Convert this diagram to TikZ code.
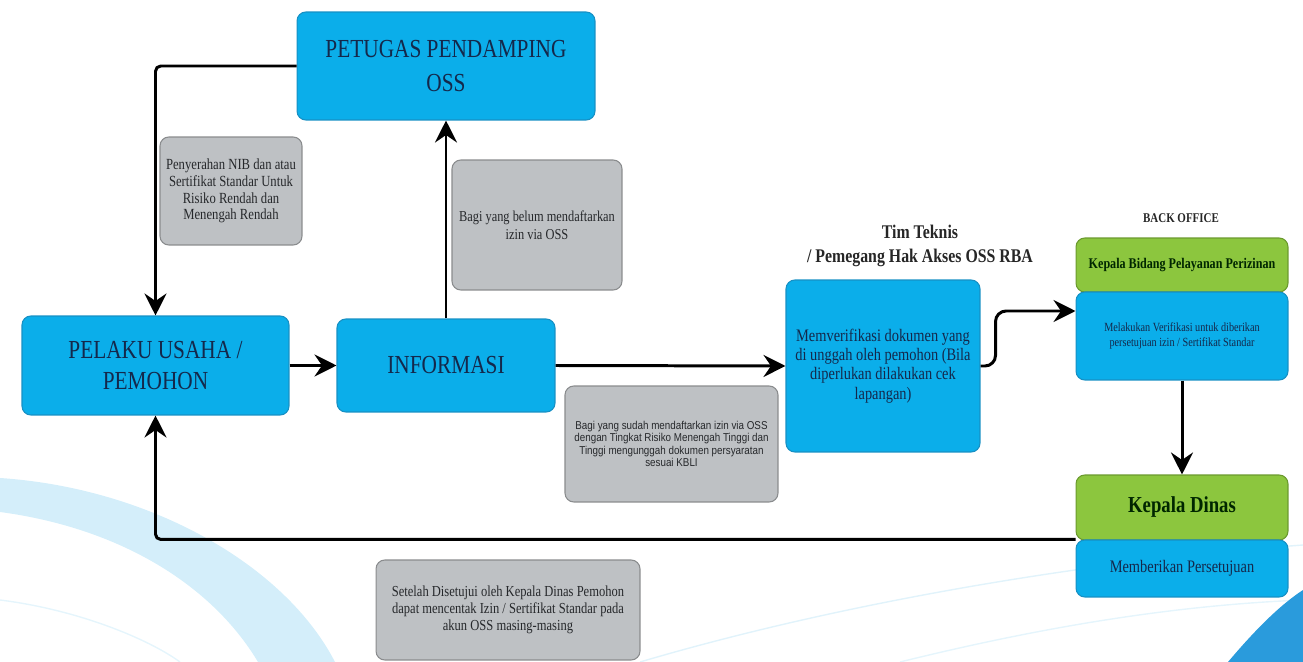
\documentclass[tikz,border=0pt]{standalone}
\usepackage{fontspec}
\setmainfont[FakeStretch=0.82]{Liberation Serif}
\setsansfont[FakeStretch=0.86]{Liberation Sans}
\usepackage{xcolor}
\usepackage{tikz}
\usetikzlibrary{arrows.meta, positioning, calc}

\definecolor{ossblue}{HTML}{0BAEEA}
\definecolor{ossedge}{HTML}{1790C4}
\definecolor{osstext}{HTML}{14284B}
\definecolor{notegray}{HTML}{BEC1C4}
\definecolor{noteedge}{HTML}{8A8C8E}
\definecolor{notetext}{HTML}{26282B}
\definecolor{kagreen}{HTML}{8CC63E}
\definecolor{kaedge}{HTML}{6B9A2E}
\definecolor{swoosh}{HTML}{D4EEFA}
\definecolor{swooshdark}{HTML}{2A9BDC}

\begin{document}
\begin{tikzpicture}[
    x=0.02cm, y=-0.02cm,
    proc/.style={rectangle, rounded corners=5pt, draw=ossedge, line width=0.6pt, fill=ossblue, text=osstext, align=center, inner sep=2pt},
    note/.style={rectangle, rounded corners=5pt, draw=noteedge, line width=0.6pt, fill=notegray, text=notetext, align=center, inner sep=2pt},
    head/.style={rectangle, rounded corners=5pt, draw=kaedge, line width=0.6pt, fill=kagreen, text=black!85!green, align=center, font=\bfseries},
    title/.style={align=center, font=\bfseries, text=black!85},
    flow/.style={-{Stealth[length=4.4mm, width=4.4mm, inset=1.5mm]}, line width=1.7pt, black}
]
\useasboundingbox (0,0) rectangle (1303,662);

\fill[swoosh] (0,478) .. controls (150,488) and (285,565) .. (335,662) -- (258,662) .. controls (212,585) and (120,528) .. (0,512) -- cycle;
\draw[swoosh!60, line width=0.8pt] (0,600) .. controls (80,610) and (150,640) .. (180,662);
\draw[swoosh!70, line width=0.8pt] (640,662) .. controls (850,600) and (1100,560) .. (1303,545);
\draw[swoosh!60, line width=0.8pt] (900,662) .. controls (1050,625) and (1180,605) .. (1303,600);
\fill[swooshdark] (1228,662) .. controls (1255,630) and (1280,605) .. (1303,590) -- (1303,662) -- cycle;

\node[proc, minimum width=5.96cm, minimum height=2.16cm, font=\fontsize{14.8}{19}\selectfont] (petugas) at (446,66) {PETUGAS PENDAMPING\\OSS};
\node[proc, minimum width=5.34cm, minimum height=1.98cm, font=\fontsize{14.8}{18}\selectfont] (pelaku) at (155.5,365.5) {PELAKU USAHA /\\PEMOHON};
\node[proc, minimum width=4.36cm, minimum height=1.86cm, font=\fontsize{14.8}{18}\selectfont] (informasi) at (446,365.5) {INFORMASI};
\node[proc, minimum width=3.88cm, minimum height=3.44cm, font=\fontsize{10}{11}\selectfont] (verif) at (883,366) {Memverifikasi dokumen yang\\di unggah oleh pemohon (Bila\\diperlukan dilakukan cek\\lapangan)};

\node[note, minimum width=2.84cm, minimum height=2.16cm, font=\fontsize{8.8}{9.6}\selectfont] (ket1) at (231,191) {Penyerahan NIB dan atau\\Sertifikat Standar Untuk\\Risiko Rendah dan\\Menengah Rendah};
\node[note, minimum width=3.4cm, minimum height=2.6cm, font=\fontsize{8.6}{10.4}\selectfont] (ket2) at (537,225) {Bagi yang belum mendaftarkan\\izin via OSS};
\node[note, minimum width=4.26cm, minimum height=2.32cm, font=\sffamily\fontsize{6.5}{7.1}\selectfont] (ket3) at (671.5,444) {Bagi yang sudah mendaftarkan izin via OSS\\dengan Tingkat Risiko Menengah Tinggi dan\\Tinggi mengunggah dokumen persyaratan\\sesuai KBLI};
\node[note, minimum width=5.28cm, minimum height=2.0cm, font=\fontsize{8.7}{9.6}\selectfont] (ket4) at (508,610) {Setelah Disetujui oleh Kepala Dinas Pemohon\\dapat mencentak Izin / Sertifikat Standar pada\\akun OSS masing-masing};

\node[title, font=\bfseries\fontsize{11}{13.7}\selectfont] (tim) at (920,246) {Tim Teknis\\/ Pemegang Hak Akses OSS RBA};
\node[title, font=\bfseries\fontsize{7.6}{9}\selectfont] (backoffice) at (1181,218) {BACK OFFICE};

\node[head, minimum width=4.24cm, minimum height=1.08cm, font=\bfseries\fontsize{8.4}{10}\selectfont] (kabid) at (1182,265) {Kepala Bidang Pelayanan Perizinan};
\node[proc, minimum width=4.24cm, minimum height=1.76cm, font=\fontsize{7.1}{8.6}\selectfont] (kabidtugas) at (1182,336) {Melakukan Verifikasi untuk diberikan\\persetujuan izin / Sertifikat Standar};
\node[head, minimum width=4.24cm, minimum height=1.3cm, font=\bfseries\fontsize{13}{15}\selectfont] (kadis) at (1182,507.5) {Kepala Dinas};
\node[proc, minimum width=4.24cm, minimum height=1.14cm, font=\fontsize{10}{11}\selectfont] (kadistugas) at (1182,568.5) {Memberikan Persetujuan};

\draw[flow, rounded corners=3pt] (petugas.west) -| (pelaku.north);
\draw[flow] (informasi.north) -- (petugas.south);
\draw[flow] (pelaku.east) -- (informasi.west);
\draw[flow] (informasi.east) -- (verif.west);
\draw[flow, rounded corners=6pt] (verif.east) -- ++(15,0) |- ([yshift=0.5cm]kabidtugas.west);
\draw[flow] (kabidtugas.south) -- (kadis.north);
\draw[flow, rounded corners=3pt] (kadistugas.north west) -| (pelaku.south);
\end{tikzpicture}
\end{document}
